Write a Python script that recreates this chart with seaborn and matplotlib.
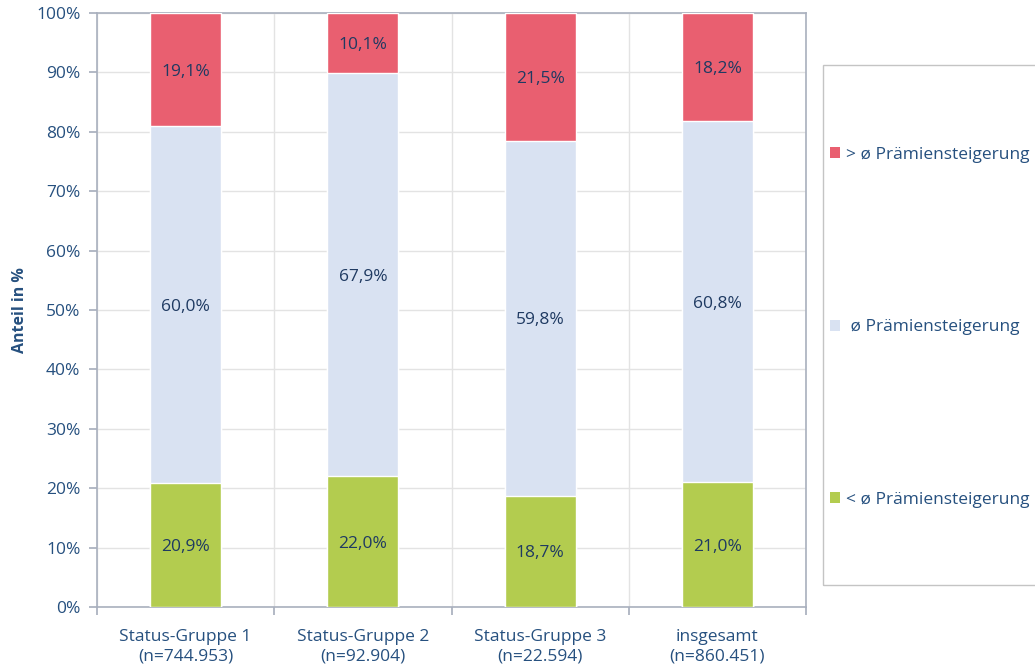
import numpy as np
import pandas as pd
import matplotlib
matplotlib.use("Agg")
import matplotlib.pyplot as plt
import seaborn as sns
from matplotlib.patches import Patch, Rectangle

# data
groups = ["Status-Gruppe 1\n(n=744.953)", "Status-Gruppe 2\n(n=92.904)",
          "Status-Gruppe 3\n(n=22.594)", "insgesamt\n(n=860.451)"]
below = [20.9, 22.0, 18.7, 21.0]
average = [60.0, 67.9, 59.8, 60.8]
above = [19.1, 10.1, 21.5, 18.2]

series_names = ["> ø Prämiensteigerung", " ø Prämiensteigerung", "< ø Prämiensteigerung"]
colors = ["#E95F70", "#D9E2F2", "#B3CC4F"]
text_col = "#26507F"
value_col = "#1F3A62"
spine_col = "#A9B0BE"
grid_col = "#E3E3E3"

df = pd.DataFrame({"group": groups, "below": below, "average": average, "above": above})
df["mid_top"] = df["below"] + df["average"]
df["total"] = df["mid_top"] + df["above"]

sns.set_theme(style="white")
plt.rcParams["font.family"] = ["Open Sans", "DejaVu Sans"]
fs = 12.5

fig = plt.figure(figsize=(10.35, 6.72), dpi=100)
ax = fig.add_axes([97 / 1035, 65 / 672, (806 - 97) / 1035, (607 - 13) / 672])

# stacked bars by layering cumulative totals
sns.barplot(data=df, x="group", y="total", color=colors[0], width=0.4,
            saturation=1, ax=ax, zorder=3)
sns.barplot(data=df, x="group", y="mid_top", color=colors[1], width=0.4,
            saturation=1, ax=ax, zorder=3)
sns.barplot(data=df, x="group", y="below", color=colors[2], width=0.4,
            saturation=1, ax=ax, zorder=3)

# value labels
for i in range(len(groups)):
    for bot, val in [(0, below[i]), (below[i], average[i]), (below[i] + average[i], above[i])]:
        ax.text(i, bot + val / 2, f"{val:.1f}%".replace(".", ","),
                ha="center", va="center_baseline", fontsize=fs, color=value_col, zorder=4)

ax.set_ylim(0, 100)
ax.set_xlim(-0.5, len(groups) - 0.5)
ax.set_yticks(np.arange(0, 101, 10))
ax.set_yticklabels([f"{v}%" for v in range(0, 101, 10)], fontsize=fs, color=text_col)
ax.set_xticks(np.arange(-0.5, len(groups), 1.0))
ax.set_xticklabels([])
ax.set_xticks(range(len(groups)), minor=True)
ax.set_xticklabels(groups, minor=True, fontsize=fs, color=text_col, linespacing=1.25)
ax.tick_params(axis="x", which="minor", length=0, pad=16)
ax.tick_params(axis="x", which="major", length=6, color=spine_col, direction="out", bottom=True)
ax.tick_params(axis="y", length=6, color=spine_col, direction="out", left=True, pad=6)

ax.set_xlabel("")
ax.set_ylabel("Anteil in %", fontsize=11.5, fontweight="bold", color=text_col, labelpad=6)

ax.grid(True, axis="both", which="major", color=grid_col, linewidth=1, zorder=0)
ax.set_axisbelow(True)
for s in ax.spines.values():
    s.set_visible(True)
    s.set_color(spine_col)
    s.set_linewidth(1.2)

# legend frame, extends past the right edge like the original
fig.patches.append(Rectangle((823 / 1035, 87 / 672), 0.25, 520 / 672,
                             transform=fig.transFigure, fill=False,
                             edgecolor="#C4C4C4", linewidth=1.0))
handles = [Patch(facecolor=c, edgecolor="none") for c in colors]
leg = fig.legend(handles, series_names, loc="upper left",
                 bbox_to_anchor=(830 / 1035, (672 - 147) / 672),
                 frameon=False, fontsize=fs, labelcolor=text_col,
                 handlelength=0.6, handleheight=0.6, handletextpad=0.35,
                 labelspacing=9.0, borderpad=0, borderaxespad=0)

fig.savefig("out.png", dpi=100)
